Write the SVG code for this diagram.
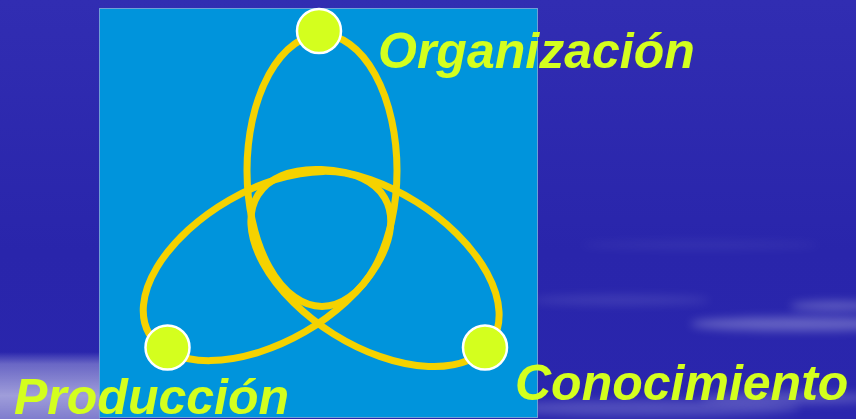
<svg xmlns="http://www.w3.org/2000/svg" width="856" height="419" viewBox="0 0 856 419">
  <defs>
    <linearGradient id="bg" x1="0" y1="0" x2="0" y2="419" gradientUnits="userSpaceOnUse">
      <stop offset="0" stop-color="#312db2"/>
      <stop offset="0.6" stop-color="#2925ab"/>
      <stop offset="1" stop-color="#2a26ad"/>
    </linearGradient>
    <linearGradient id="leftGlow" x1="0" y1="352" x2="0" y2="419" gradientUnits="userSpaceOnUse">
      <stop offset="0" stop-color="#ffffff" stop-opacity="0"/>
      <stop offset="0.18" stop-color="#ffffff" stop-opacity="0.3"/>
      <stop offset="0.65" stop-color="#ffffff" stop-opacity="0.55"/>
      <stop offset="1" stop-color="#ffffff" stop-opacity="0.4"/>
    </linearGradient>
    <filter id="blur" x="-20%" y="-200%" width="140%" height="500%">
      <feGaussianBlur stdDeviation="5"/>
    </filter>
    <style>
      .ring { fill: none; stroke: #f5d200; stroke-width: 7; }
      .dot { fill: #d4ff1e; stroke: #ffffff; stroke-width: 2.5; }
      .label { fill: #d4ff1e; font-family: "Liberation Sans", Arial, sans-serif; font-weight: bold; font-style: italic; font-size: 50px; }
      .streak { fill: #ffffff; filter: url(#blur); }
    </style>
  </defs>

  <!-- background -->
  <rect x="0" y="0" width="856" height="419" fill="url(#bg)"/>
  <rect x="0" y="352" width="100" height="67" fill="url(#leftGlow)"/>
  <ellipse class="streak" cx="800" cy="324" rx="110" ry="7" opacity="0.28"/>
  <ellipse class="streak" cx="835" cy="306" rx="45" ry="5" opacity="0.25"/>
  <ellipse class="streak" cx="650" cy="408" rx="150" ry="8" opacity="0.18"/>
  <ellipse class="streak" cx="790" cy="398" rx="90" ry="6" opacity="0.2"/>
  <ellipse class="streak" cx="620" cy="300" rx="90" ry="5" opacity="0.1"/>
  <ellipse class="streak" cx="700" cy="245" rx="120" ry="4" opacity="0.06"/>

  <!-- panel -->
  <rect x="99.5" y="8.5" width="438" height="409" fill="#0094dc" stroke="#6f9fd6" stroke-width="1"/>

  <!-- connectors (rings) -->
  <g id="connectors">
    <ellipse class="ring" cx="0" cy="0" rx="75" ry="136" transform="translate(322,170.5)"/>
    <ellipse class="ring" cx="0" cy="0" rx="136" ry="76" transform="translate(267,266) rotate(-30)"/>
    <ellipse class="ring" cx="0" cy="0" rx="138" ry="78" transform="translate(375,268) rotate(32)"/>
  </g>

  <!-- nodes -->
  <g id="node-organizacion">
    <circle class="dot" cx="319" cy="31" r="22"/>
    <text class="label" x="378" y="68">Organización</text>
  </g>
  <g id="node-produccion">
    <circle class="dot" cx="167.5" cy="347.5" r="22"/>
    <text class="label" x="14" y="414">Producción</text>
  </g>
  <g id="node-conocimiento">
    <circle class="dot" cx="485" cy="347.5" r="22"/>
    <text class="label" x="515" y="400">Conocimiento</text>
  </g>
</svg>
